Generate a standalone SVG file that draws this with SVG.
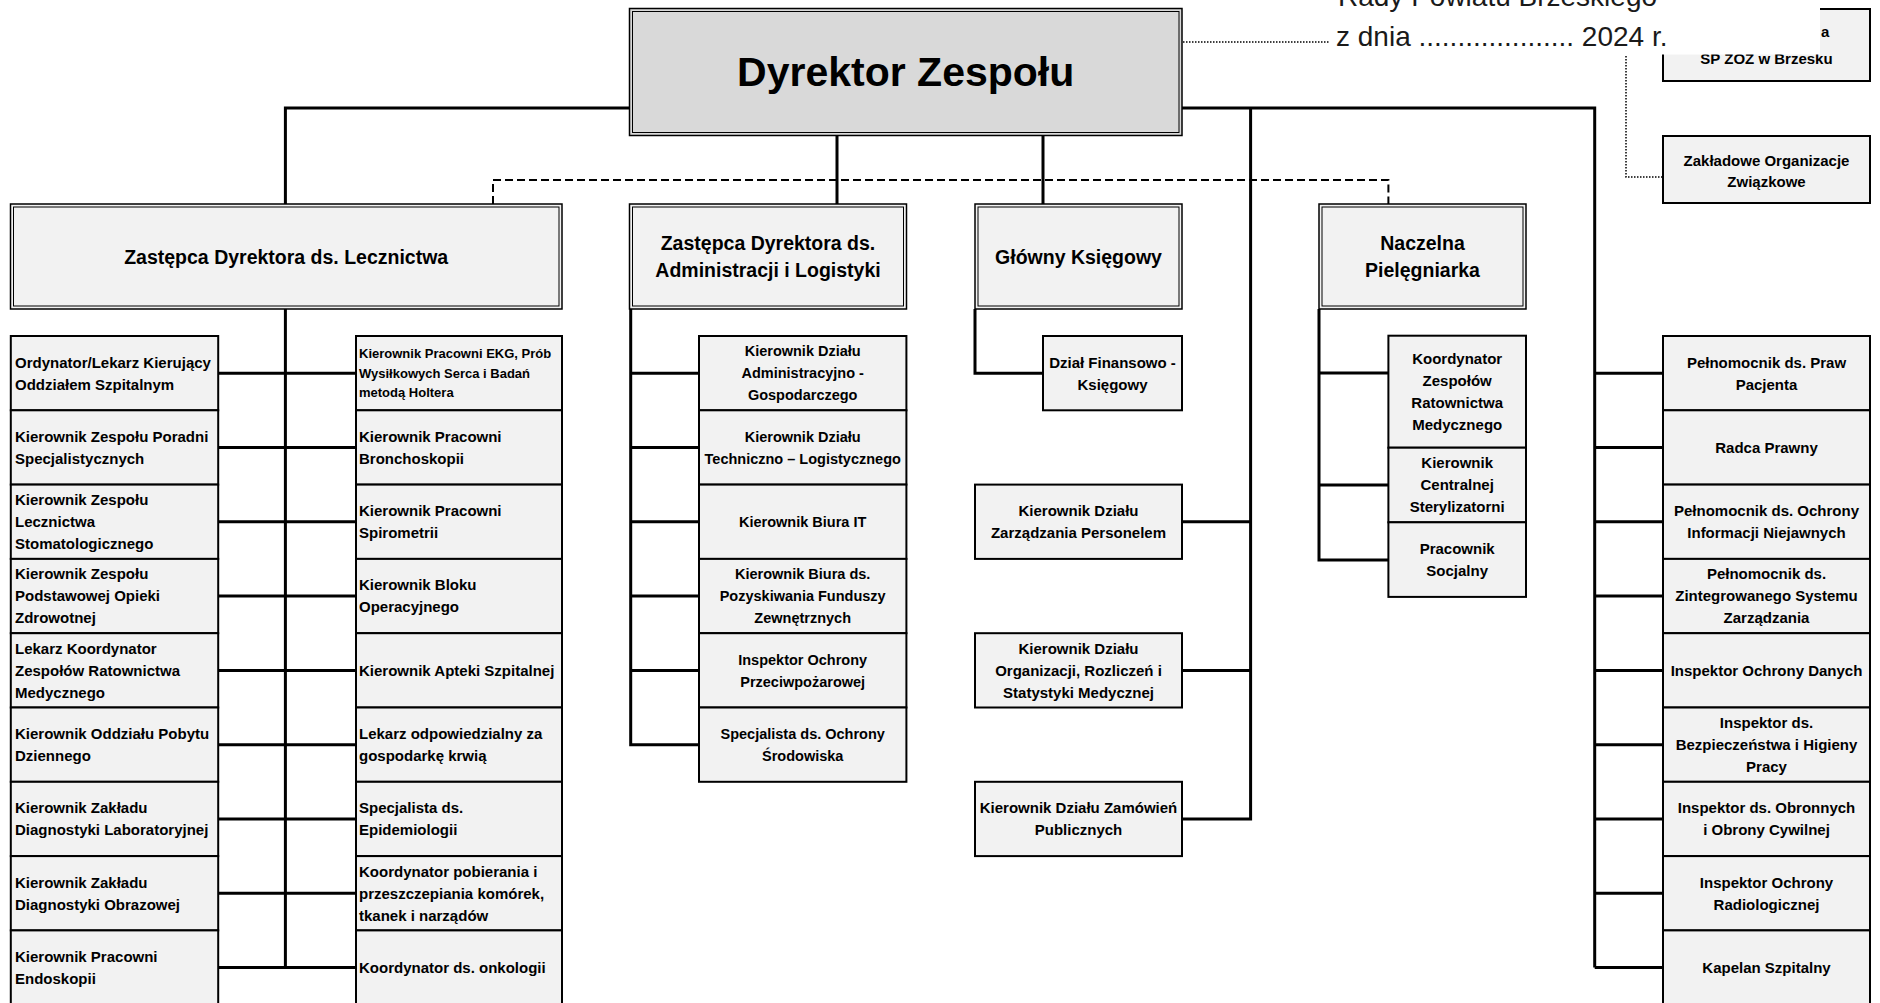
<svg xmlns="http://www.w3.org/2000/svg" width="1880" height="1003" viewBox="0 0 1880 1003">
<defs>
<style>
.bx{fill:#f2f2f2;stroke:#000;stroke-width:2}
.o2{fill:#f2f2f2;stroke:#000;stroke-width:1.5}
.od{fill:#d9d9d9;stroke:#000;stroke-width:1.5}
.in{fill:none;stroke:#000;stroke-width:1}
text{font-family:"Liberation Sans",Arial,sans-serif;font-weight:bold;font-size:15px;fill:#000}
.c{text-anchor:middle}
.s13{font-size:13px}
.s14{font-size:14.5px}
.h2{font-size:19.5px}
.h1{font-size:41px}
.rg{font-weight:normal;font-size:28px;fill:#1a1a1a}
.ln{stroke:#000;stroke-width:3;fill:none}
.dash{stroke:#000;stroke-width:2;stroke-dasharray:8 4;fill:none}
.dot{stroke:#000;stroke-width:1.5;stroke-dasharray:1.5 1.5;fill:none}
</style>
</defs>
<rect x="0" y="0" width="1880" height="1003" fill="#fff"/>

<g id="connectors">
<path class="ln" d="M285.4,204 V108 H1594.7 V967.6"/>
<path class="ln" d="M837,135 V204 M1043,135 V204 M1250.6,108 V819 H1182"/>
<path class="ln" d="M285.4,309 V967.6"/>
<path class="ln" d="M218,373.2 H356 M218,447.5 H356 M218,521.8 H356 M218,596.1 H356 M218,670.4 H356 M218,744.7 H356 M218,819 H356 M218,893.3 H356 M218,967.6 H356"/>
<path class="ln" d="M630.7,309 V744.7 H699 M630.7,373.2 H699 M630.7,447.5 H699 M630.7,521.8 H699 M630.7,596.1 H699 M630.7,670.4 H699"/>
<path class="ln" d="M975,309 V373.2 H1043"/>
<path class="ln" d="M1182,521.8 H1250.6 M1182,670.4 H1250.6"/>
<path class="ln" d="M1319,309 V560 H1388.4 M1319,373 H1388.4 M1319,485 H1388.4"/>
<path class="ln" d="M1594.7,373.2 H1663 M1594.7,447.5 H1663 M1594.7,521.8 H1663 M1594.7,596.1 H1663 M1594.7,670.4 H1663 M1594.7,744.7 H1663 M1594.7,819 H1663 M1594.7,893.3 H1663 M1594.7,967.6 H1663"/>
<path class="dash" d="M493,204 V180 H1388.4 V204"/>
<path class="dot" d="M1183,42 H1336"/>
<path class="dot" d="M1626,56 V177 H1663"/>
</g>

<g id="dyrektor">
<rect class="od" x="629.5" y="8.5" width="552.5" height="127"/>
<rect class="in" x="632.5" y="11.5" width="546.5" height="121"/>
<text class="c h1" x="905.7" y="86">Dyrektor Zespołu</text>
</g>

<g id="zastepca-lecznictwa">
<rect class="o2" x="10.5" y="204" width="551.5" height="105"/>
<rect class="in" x="13.5" y="207" width="545.5" height="99"/>
<text class="c h2" x="286.2" y="263.5">Zastępca Dyrektora ds. Lecznictwa</text>
</g>
<g id="zastepca-administracji">
<rect class="o2" x="629.5" y="204" width="277" height="105"/>
<rect class="in" x="632.5" y="207" width="271" height="99"/>
<text class="c h2" x="768" y="249.6">Zastępca Dyrektora ds.<tspan x="768" dy="27.7">Administracji i Logistyki</tspan></text>
</g>
<g id="glowny-ksiegowy">
<rect class="o2" x="975" y="204" width="207" height="105"/>
<rect class="in" x="978" y="207" width="201" height="99"/>
<text class="c h2" x="1078.5" y="263.5">Główny Księgowy</text>
</g>
<g id="naczelna-pielegniarka">
<rect class="o2" x="1319" y="204" width="207" height="105"/>
<rect class="in" x="1322" y="207" width="201" height="99"/>
<text class="c h2" x="1422.5" y="249.6">Naczelna<tspan x="1422.5" dy="27.7">Pielęgniarka</tspan></text>
</g>

<!-- left sub-column -->
<g id="l0"><rect class="bx" x="10.8" y="336" width="207.4" height="74.3"/><text x="15" y="367.5">Ordynator/Lekarz Kierujący<tspan x="15" dy="22">Oddziałem Szpitalnym</tspan></text></g>
<g id="l1"><rect class="bx" x="10.8" y="410.3" width="207.4" height="74.3"/><text x="15" y="441.8">Kierownik Zespołu Poradni<tspan x="15" dy="22">Specjalistycznych</tspan></text></g>
<g id="l2"><rect class="bx" x="10.8" y="484.6" width="207.4" height="74.3"/><text x="15" y="505.1">Kierownik Zespołu<tspan x="15" dy="22">Lecznictwa</tspan><tspan x="15" dy="22">Stomatologicznego</tspan></text></g>
<g id="l3"><rect class="bx" x="10.8" y="558.9" width="207.4" height="74.3"/><text x="15" y="579.4">Kierownik Zespołu<tspan x="15" dy="22">Podstawowej Opieki</tspan><tspan x="15" dy="22">Zdrowotnej</tspan></text></g>
<g id="l4"><rect class="bx" x="10.8" y="633.2" width="207.4" height="74.3"/><text x="15" y="653.7">Lekarz Koordynator<tspan x="15" dy="22">Zespołów Ratownictwa</tspan><tspan x="15" dy="22">Medycznego</tspan></text></g>
<g id="l5"><rect class="bx" x="10.8" y="707.5" width="207.4" height="74.3"/><text x="15" y="739">Kierownik Oddziału Pobytu<tspan x="15" dy="22">Dziennego</tspan></text></g>
<g id="l6"><rect class="bx" x="10.8" y="781.8" width="207.4" height="74.3"/><text x="15" y="813.3">Kierownik Zakładu<tspan x="15" dy="22">Diagnostyki Laboratoryjnej</tspan></text></g>
<g id="l7"><rect class="bx" x="10.8" y="856.1" width="207.4" height="74.3"/><text x="15" y="887.6">Kierownik Zakładu<tspan x="15" dy="22">Diagnostyki Obrazowej</tspan></text></g>
<g id="l8"><rect class="bx" x="10.8" y="930.4" width="207.4" height="74.3"/><text x="15" y="961.9">Kierownik Pracowni<tspan x="15" dy="22">Endoskopii</tspan></text></g>

<!-- right sub-column of Lecznictwo -->
<g id="m0"><rect class="bx" x="356" y="336" width="206" height="74.3"/><text class="s13" x="359" y="358.3">Kierownik Pracowni EKG, Prób<tspan x="359" dy="19.5">Wysiłkowych Serca i Badań</tspan><tspan x="359" dy="19.5">metodą Holtera</tspan></text></g>
<g id="m1"><rect class="bx" x="356" y="410.3" width="206" height="74.3"/><text x="359" y="441.8">Kierownik Pracowni<tspan x="359" dy="22">Bronchoskopii</tspan></text></g>
<g id="m2"><rect class="bx" x="356" y="484.6" width="206" height="74.3"/><text x="359" y="516.1">Kierownik Pracowni<tspan x="359" dy="22">Spirometrii</tspan></text></g>
<g id="m3"><rect class="bx" x="356" y="558.9" width="206" height="74.3"/><text x="359" y="590.4">Kierownik Bloku<tspan x="359" dy="22">Operacyjnego</tspan></text></g>
<g id="m4"><rect class="bx" x="356" y="633.2" width="206" height="74.3"/><text x="359" y="675.7">Kierownik Apteki Szpitalnej</text></g>
<g id="m5"><rect class="bx" x="356" y="707.5" width="206" height="74.3"/><text x="359" y="739">Lekarz odpowiedzialny za<tspan x="359" dy="22">gospodarkę krwią</tspan></text></g>
<g id="m6"><rect class="bx" x="356" y="781.8" width="206" height="74.3"/><text x="359" y="813.3">Specjalista ds.<tspan x="359" dy="22">Epidemiologii</tspan></text></g>
<g id="m7"><rect class="bx" x="356" y="856.1" width="206" height="74.3"/><text x="359" y="876.6">Koordynator pobierania i<tspan x="359" dy="22">przeszczepiania komórek,</tspan><tspan x="359" dy="22">tkanek i narządów</tspan></text></g>
<g id="m8"><rect class="bx" x="356" y="930.4" width="206" height="74.3"/><text x="359" y="972.9">Koordynator ds. onkologii</text></g>

<!-- administration -->
<g id="a0"><rect class="bx" x="699" y="336" width="207.4" height="74.3"/><text class="c s14" x="802.7" y="356.3">Kierownik Działu<tspan x="802.7" dy="22">Administracyjno -</tspan><tspan x="802.7" dy="22">Gospodarczego</tspan></text></g>
<g id="a1"><rect class="bx" x="699" y="410.3" width="207.4" height="74.3"/><text class="c s14" x="802.7" y="441.6">Kierownik Działu<tspan x="802.7" dy="22">Techniczno – Logistycznego</tspan></text></g>
<g id="a2"><rect class="bx" x="699" y="484.6" width="207.4" height="74.3"/><text class="c s14" x="802.7" y="526.9">Kierownik Biura IT</text></g>
<g id="a3"><rect class="bx" x="699" y="558.9" width="207.4" height="74.3"/><text class="c s14" x="802.7" y="579.2">Kierownik Biura ds.<tspan x="802.7" dy="22">Pozyskiwania Funduszy</tspan><tspan x="802.7" dy="22">Zewnętrznych</tspan></text></g>
<g id="a4"><rect class="bx" x="699" y="633.2" width="207.4" height="74.3"/><text class="c s14" x="802.7" y="664.5">Inspektor Ochrony<tspan x="802.7" dy="22">Przeciwpożarowej</tspan></text></g>
<g id="a5"><rect class="bx" x="699" y="707.5" width="207.4" height="74.3"/><text class="c s14" x="802.7" y="738.8">Specjalista ds. Ochrony<tspan x="802.7" dy="22">Środowiska</tspan></text></g>

<!-- finance / middle -->
<g id="dzial-finansowy"><rect class="bx" x="1043" y="336" width="139" height="74.3"/><text class="c" x="1112.5" y="367.5">Dział Finansowo -<tspan x="1112.5" dy="22">Księgowy</tspan></text></g>
<g id="kadry"><rect class="bx" x="975" y="484.6" width="207" height="74.3"/><text class="c" x="1078.5" y="516.1">Kierownik Działu<tspan x="1078.5" dy="22">Zarządzania Personelem</tspan></text></g>
<g id="statystyka"><rect class="bx" x="975" y="633.2" width="207" height="74.3"/><text class="c" x="1078.5" y="653.7">Kierownik Działu<tspan x="1078.5" dy="22">Organizacji, Rozliczeń i</tspan><tspan x="1078.5" dy="22">Statystyki Medycznej</tspan></text></g>
<g id="zamowienia"><rect class="bx" x="975" y="781.8" width="207" height="74.3"/><text class="c" x="1078.5" y="813.3">Kierownik Działu Zamówień<tspan x="1078.5" dy="22">Publicznych</tspan></text></g>

<!-- nursing -->
<g id="n0"><rect class="bx" x="1388.4" y="335.7" width="137.6" height="112"/><text class="c" x="1457.2" y="364">Koordynator<tspan x="1457.2" dy="22">Zespołów</tspan><tspan x="1457.2" dy="22">Ratownictwa</tspan><tspan x="1457.2" dy="22">Medycznego</tspan></text></g>
<g id="n1"><rect class="bx" x="1388.4" y="447.7" width="137.6" height="74.6"/><text class="c" x="1457.2" y="468.3">Kierownik<tspan x="1457.2" dy="22">Centralnej</tspan><tspan x="1457.2" dy="22">Sterylizatorni</tspan></text></g>
<g id="n2"><rect class="bx" x="1388.4" y="522.3" width="137.6" height="74.6"/><text class="c" x="1457.2" y="554">Pracownik<tspan x="1457.2" dy="22">Socjalny</tspan></text></g>

<!-- right column -->
<g id="r0"><rect class="bx" x="1663" y="336" width="207" height="74.3"/><text class="c" x="1766.5" y="367.5">Pełnomocnik ds. Praw<tspan x="1766.5" dy="22">Pacjenta</tspan></text></g>
<g id="r1"><rect class="bx" x="1663" y="410.3" width="207" height="74.3"/><text class="c" x="1766.5" y="452.8">Radca Prawny</text></g>
<g id="r2"><rect class="bx" x="1663" y="484.6" width="207" height="74.3"/><text class="c" x="1766.5" y="516.1">Pełnomocnik ds. Ochrony<tspan x="1766.5" dy="22">Informacji Niejawnych</tspan></text></g>
<g id="r3"><rect class="bx" x="1663" y="558.9" width="207" height="74.3"/><text class="c" x="1766.5" y="579.4">Pełnomocnik ds.<tspan x="1766.5" dy="22">Zintegrowanego Systemu</tspan><tspan x="1766.5" dy="22">Zarządzania</tspan></text></g>
<g id="r4"><rect class="bx" x="1663" y="633.2" width="207" height="74.3"/><text class="c" x="1766.5" y="675.7">Inspektor Ochrony Danych</text></g>
<g id="r5"><rect class="bx" x="1663" y="707.5" width="207" height="74.3"/><text class="c" x="1766.5" y="728">Inspektor ds.<tspan x="1766.5" dy="22">Bezpieczeństwa i Higieny</tspan><tspan x="1766.5" dy="22">Pracy</tspan></text></g>
<g id="r6"><rect class="bx" x="1663" y="781.8" width="207" height="74.3"/><text class="c" x="1766.5" y="813.3">Inspektor ds. Obronnych<tspan x="1766.5" dy="22">i Obrony Cywilnej</tspan></text></g>
<g id="r7"><rect class="bx" x="1663" y="856.1" width="207" height="74.3"/><text class="c" x="1766.5" y="887.6">Inspektor Ochrony<tspan x="1766.5" dy="22">Radiologicznej</tspan></text></g>
<g id="r8"><rect class="bx" x="1663" y="930.4" width="207" height="74.3"/><text class="c" x="1766.5" y="972.9">Kapelan Szpitalny</text></g>

<g id="zwiazki"><rect class="bx" x="1663" y="136" width="207" height="67"/><text class="c" x="1766.5" y="165.8">Zakładowe Organizacje<tspan x="1766.5" dy="21.5">Związkowe</tspan></text></g>

<g id="rada-spoleczna"><rect class="bx" x="1663" y="9" width="207" height="72"/><text class="c" x="1766.5" y="63.5">SP ZOZ w Brzesku</text><text x="1821" y="37">a</text></g>

<g id="naglowek">
<rect x="1330" y="0" width="490" height="54.5" fill="#fff"/>
<text class="rg" x="1338" y="6">Rady Powiatu Brzeskiego</text>
<text class="rg" x="1336" y="46">z dnia .................... 2024 r.</text>
</g>
</svg>
